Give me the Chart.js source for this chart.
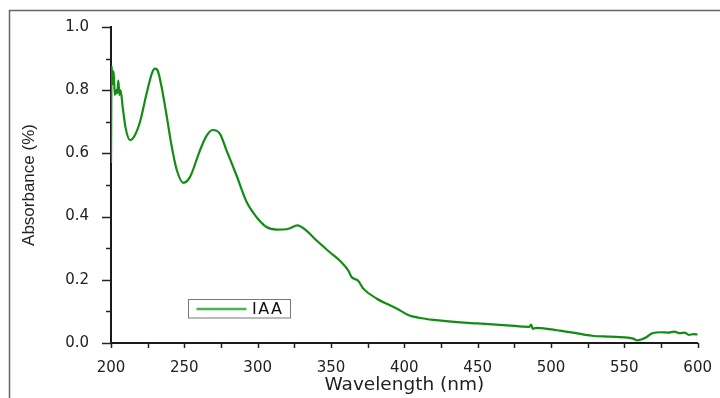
<!DOCTYPE html>
<html>
<head>
<meta charset="utf-8">
<script src="https://cdn.jsdelivr.net/npm/chart.js@4.4.1/dist/chart.umd.min.js"></script>
<style>
  html, body { margin: 0; padding: 0; background: #fff; }
  #wrap { width: 720px; height: 398px; }
</style>
</head>
<body>
<div id="wrap"><canvas id="myChart" width="720" height="398"></canvas></div>
<script>
const ctx = document.getElementById('myChart');

const wavelength = [200, 200.4, 201.2, 201.8, 202.6, 203.5, 204.2, 205, 205.8, 206.5, 208, 210, 213, 216,
  219.8, 224.3, 228, 230, 232, 234.5, 238, 241.3, 244.7, 249.3, 253.8, 260.6, 265.2, 269.3, 274.3, 278.8,
  285.6, 292.5, 299.3, 306, 313, 319.7, 322, 327, 333.4, 340, 349, 357, 361.7, 364, 368.5, 372, 381,
  394.7, 403, 410, 420, 438, 450, 470, 485, 486.5, 487.5, 490, 500, 506, 515, 528, 540, 552, 556, 559,
  562, 565, 569, 575, 580, 584, 588, 591, 594, 597, 600];
const absorbance = [0.57, 0.876, 0.82, 0.86, 0.785, 0.80, 0.79, 0.83, 0.785, 0.80, 0.745, 0.68, 0.642, 0.655,
  0.70, 0.79, 0.855, 0.868, 0.86, 0.81, 0.717, 0.624, 0.55, 0.507, 0.525, 0.609, 0.656, 0.674, 0.662, 0.609,
  0.53, 0.446, 0.398, 0.367, 0.359, 0.36, 0.363, 0.372, 0.355, 0.325, 0.288, 0.256, 0.23, 0.209, 0.197, 0.172, 0.141,
  0.109, 0.088, 0.080, 0.073, 0.065, 0.062, 0.056, 0.051, 0.058, 0.045, 0.048, 0.043, 0.039, 0.033, 0.023, 0.020, 0.017, 0.014, 0.008,
  0.012, 0.018, 0.031, 0.034, 0.033, 0.036, 0.031, 0.033, 0.026, 0.028, 0.027];
const seriesName = 'IAA';
const xTitle = 'Wavelength (nm)';
const yTitle = 'Absorbance (%)';

const points = wavelength.map((w, i) => ({ x: w, y: absorbance[i] }));

// outer frame, tick marks and the boxed legend
const extras = {
    id: 'extras',
    beforeDraw(chart) {
        const c = chart.ctx;
        c.save();
        c.fillStyle = '#fff';
        c.fillRect(0, 0, chart.width, chart.height);
        c.strokeStyle = '#666';
        c.lineWidth = 1.5;
        c.beginPath();
        c.moveTo(9.5, chart.height);
        c.lineTo(9.5, 10.5);
        c.lineTo(chart.width, 10.5);
        c.stroke();
        c.restore();
    },
    afterDraw(chart) {
        const c = chart.ctx;
        const xs = chart.scales.x, ys = chart.scales.y;
        const area = chart.chartArea;
        c.save();
        c.strokeStyle = '#222';
        c.lineWidth = 1.5;
        ys.ticks.forEach(t => {
            const py = Math.round(ys.getPixelForValue(t.value)) + 0.5;
            const major = Math.round(t.value * 10) % 2 === 0;
            c.beginPath();
            c.moveTo(area.left, py);
            c.lineTo(area.left - (major ? 9 : 5), py);
            c.stroke();
        });
        xs.ticks.forEach(t => {
            const px = Math.round(xs.getPixelForValue(t.value)) + 0.5;
            c.beginPath();
            c.moveTo(px, area.bottom);
            c.lineTo(px, area.bottom + 5);
            c.stroke();
        });

        // legend
        c.strokeStyle = '#777';
        c.lineWidth = 1;
        c.strokeRect(188.5, 299.5, 102, 18.5);
        c.strokeStyle = '#4cb34c';
        c.lineWidth = 2.5;
        c.beginPath();
        c.moveTo(196.5, 309);
        c.lineTo(246.5, 309);
        c.stroke();
        c.fillStyle = '#111';
        c.font = '16px "DejaVu Sans"';
        c.textBaseline = 'middle';
        c.letterSpacing = '1.5px';
        c.fillText(seriesName, 252, 309.5);
        c.restore();
    }
};

const config = {
    type: 'line',
    data: {
        datasets: [
            {
                label: seriesName,
                data: points,
                borderColor: '#128c12',
                borderWidth: 2.2,
                fill: false,
                pointRadius: 0,
                cubicInterpolationMode: 'monotone'
            }
        ]
    },
    options: {
        responsive: false,
        animation: false,
        devicePixelRatio: 1,
        layout: {
            padding: { left: 0, top: 27, right: 22, bottom: 0 }
        },
        plugins: {
            legend: { display: false },
            tooltip: { enabled: false }
        },
        scales: {
            x: {
                type: 'linear',
                min: 200,
                max: 600,
                afterFit: (s) => { s.height = 55; },
                grid: { display: false },
                border: { display: true, color: '#1a1a1a', width: 2 },
                ticks: {
                    stepSize: 25,
                    padding: 8,
                    color: '#222',
                    font: { family: 'DejaVu Sans', size: 15 },
                    maxRotation: 0,
                    autoSkip: false,
                    callback: (v) => (v % 50 === 0 ? String(v) : '')
                },
                title: {
                    display: true,
                    text: xTitle,
                    color: '#222',
                    font: { family: 'DejaVu Sans', size: 18.5 },
                    padding: { top: 0, bottom: 2 }
                }
            },
            y: {
                min: 0,
                max: 1,
                afterFit: (s) => { s.width = 111; },
                grid: { display: false },
                border: { display: true, color: '#1a1a1a', width: 2 },
                ticks: {
                    stepSize: 0.1,
                    padding: 14,
                    color: '#222',
                    font: { family: 'DejaVu Sans', size: 15 },
                    autoSkip: false,
                    callback: (v) => (Math.round(v * 10) % 2 === 0 ? v.toFixed(1) : '')
                },
                title: {
                    display: true,
                    text: yTitle,
                    color: '#222',
                    font: { family: 'Liberation Sans', size: 17 },
                    padding: { top: 19, bottom: 0 }
                }
            }
        }
    },
    plugins: [extras]
};

new Chart(ctx, config);
</script>
</body>
</html>
